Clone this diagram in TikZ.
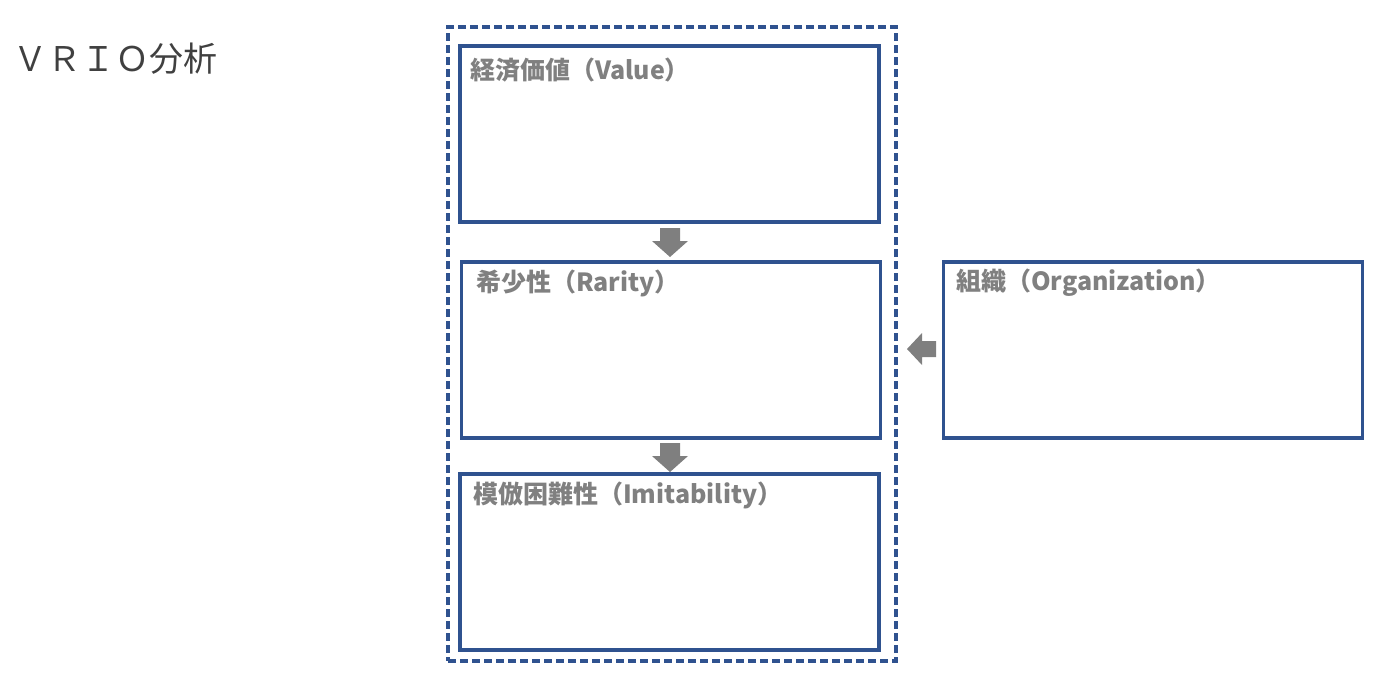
\documentclass[tikz,border=0pt]{standalone}
\usepackage{fontspec}
\newfontfamily\jpfont{Noto Sans CJK JP}
\usetikzlibrary{calc}
\definecolor{boxblue}{HTML}{2F528F}
\definecolor{arrgray}{HTML}{7F7F7F}
\definecolor{labgray}{HTML}{808080}
\definecolor{titlegray}{HTML}{404040}
\tikzset{
  panel/.style={draw=boxblue, line width=3.2pt, fill=white, minimum width=419pt, minimum height=176pt, inner sep=0pt},
  outer/.style={draw=boxblue, line width=3.4pt, dash pattern=on 8pt off 4pt, minimum width=448pt, minimum height=634pt, inner sep=0pt},
  lab/.style={anchor=west, text=labgray, font=\jpfont\bfseries\fontsize{25}{28}\selectfont, inner sep=0pt},
  barrow/.style={fill=arrgray, draw=none}
}
\begin{document}
\begin{tikzpicture}[x=1pt,y=-1pt]
\useasboundingbox (0,0) rectangle (1376,675);
\node[anchor=west, text=titlegray, font=\jpfont\fontsize{34}{38}\selectfont, inner sep=0pt] (title) at (13,59) {ＶＲＩＯ分析};
\node[outer] (outerbox) at (672,344) {};
\node[panel] (b1) at (669.5,134) {};
\node[panel] (b2) at (671,350) {};
\node[panel] (b3) at (669.5,562) {};
\node[panel] (b4) at (1153,350) {};
\node[lab] (l1) at (470,70) {経済価値（Value）};
\node[lab] (l2) at (476,283) {希少性（Rarity）};
\node[lab] (l3) at (473,495) {模倣困難性（Imitability）};
\node[lab] (l4) at (956,283) {組織（Organization）};
% down arrows
\fill[barrow] (660,228) -- (680,228) -- (680,241) -- (688,241) -- (670,257) -- (652,241) -- (660,241) -- cycle;
\fill[barrow] (660,443) -- (680,443) -- (680,456) -- (688,456) -- (670,472) -- (652,456) -- (660,456) -- cycle;
% left arrow
\fill[barrow] (936,341) -- (922,341) -- (922,333) -- (907,349) -- (922,365) -- (922,357) -- (936,357) -- cycle;
\end{tikzpicture}
\end{document}
